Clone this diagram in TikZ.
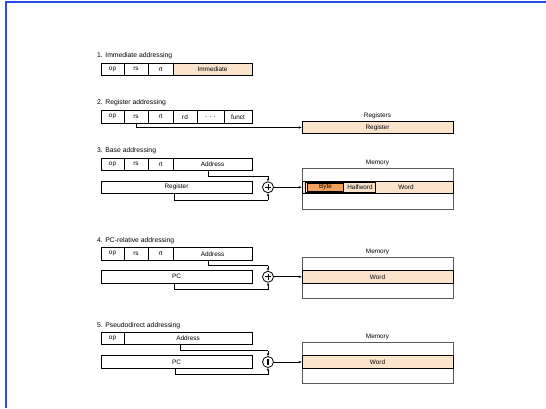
\documentclass[tikz,border=0pt]{standalone}
\usepackage{fontspec}
\setmainfont{Liberation Sans}
\usetikzlibrary{arrows.meta}
\definecolor{peach}{RGB}{252,228,204}
\definecolor{byteorange}{RGB}{242,162,92}
\definecolor{frameblue}{RGB}{35,75,240}
\definecolor{memgray}{RGB}{90,90,90}
\newcommand\lbl{\fontsize{6.4}{7.4}\selectfont}
\newcommand\ttl{\fontsize{6.8}{8}\selectfont}
\tikzset{
  cell/.style={draw, line width=0.8pt, inner sep=0pt, minimum height=12.5pt, font=\lbl},
  title/.style={anchor=west, inner sep=0pt, font=\ttl},
  toplbl/.style={anchor=south, inner sep=0pt, yshift=2pt, font=\lbl},
  peachcell/.style={cell, fill=peach},
  membox/.style={draw=memgray, line width=0.9pt, inner sep=0pt, minimum width=151pt},
  circ/.style={draw, line width=0.8pt, circle, minimum size=11pt, inner sep=0pt},
  link/.style={line width=0.8pt},
  arr/.style={line width=0.8pt, -{Stealth[length=3pt,width=2.4pt]}},
}
\begin{document}
\begin{tikzpicture}[x=1pt,y=-1pt]
\useasboundingbox (0,0) rectangle (546,408);
\fill[white] (0,0) rectangle (546,408);
\fill[frameblue] (4.6,1) rectangle (6.6,408);
\fill[frameblue] (4.6,0.6) rectangle (546,2.6);

% ---- 1. Immediate
\node[title] (t1) at (97,56) {1. Immediate addressing};
\node[cell, minimum width=23pt] (a1op) at (112.5,69.25) {op};
\node[cell, minimum width=24pt] (a1rs) at (136,69.25) {rs};
\node[cell, minimum width=25pt] (a1rt) at (160.5,69.25) {rt};
\node[peachcell, minimum width=79pt] (a1im) at (212.5,69.25) {Immediate};

% ---- 2. Register
\node[title] (t2) at (97,103) {2. Register addressing};
\node[cell, minimum width=23pt] (a2op) at (112.5,116.75) {op};
\node[cell, minimum width=24pt] (a2rs) at (136,116.75) {rs};
\node[cell, minimum width=25pt] (a2rt) at (160.5,116.75) {rt};
\node[cell, minimum width=24pt] (a2rd) at (185,116.75) {rd};
\node[cell, minimum width=27pt] (a2dots) at (210.5,116.75) {. . .};
\node[cell, minimum width=28pt] (a2fn) at (238,116.75) {funct};
\node[peachcell, minimum width=151pt, minimum height=12pt] (regs) at (377.5,127.5) {Register};
\node[toplbl] (regslbl) at (regs.north) {Registers};
\draw[arr] (a2rs.south) |- (regs.west);

% ---- 3. Base
\node[title] (t3) at (97,151) {3. Base addressing};
\node[cell, minimum width=23pt] (a3op) at (112.5,164.25) {op};
\node[cell, minimum width=24pt] (a3rs) at (136,164.25) {rs};
\node[cell, minimum width=25pt] (a3rt) at (160.5,164.25) {rt};
\node[cell, minimum width=79pt] (a3ad) at (212.5,164.25) {Address};
\node[cell, minimum width=151pt] (a3reg) at (176.5,187.25) {Register};
\node[circ] (add3) at (268,187.25) {};
\draw[line width=0.7pt] (add3.center) ++(-3.2,0) -- ++(6.4,0);
\draw[line width=0.7pt] (add3.center) ++(0,-3.2) -- ++(0,6.4);
\coordinate (c3a) at (208,176);
\coordinate (c3b) at (174,200);
\draw[link] (a3ad.south -| c3a) -- (c3a) -- (c3a -| add3);
\draw[arr] (c3a -| add3) -- (add3.north);
\draw[link] (a3reg.south -| c3b) -- (c3b) -- (c3b -| add3);
\draw[arr] (c3b -| add3) -- (add3.south);
\node[membox, minimum height=41pt] (mem3) at (377.5,188.5) {};
\node[toplbl] (mem3lbl) at (mem3.north) {Memory};
\node[peachcell, minimum width=151pt] (word3) at (377.5,187.25) {};
\node[inner sep=0pt, font=\lbl] (w3lbl) at (406,187.25) {Word};
\node[draw, line width=0.9pt, fill=peach, inner sep=0pt, minimum width=70pt, minimum height=10.5pt] (half3) at (340.5,187.25) {};
\node[draw, line width=0.7pt, fill=byteorange, inner sep=0pt, minimum width=36pt, minimum height=8pt, font=\lbl] (byte3) at (325.5,187.25) {Byte};
\node[inner sep=0pt, font=\lbl] (h3lbl) at (360,187.25) {Halfword};
\draw[arr] (add3.east) -- (word3.west);

% ---- 4. PC-relative
\node[title] (t4) at (97,241) {4. PC-relative addressing};
\node[cell, minimum width=23pt] (a4op) at (112.5,253.75) {op};
\node[cell, minimum width=24pt] (a4rs) at (136,253.75) {rs};
\node[cell, minimum width=25pt] (a4rt) at (160.5,253.75) {rt};
\node[cell, minimum width=79pt] (a4ad) at (212.5,253.75) {Address};
\node[cell, minimum width=151pt] (a4pc) at (176.5,276.75) {PC};
\node[circ] (add4) at (268,276.75) {};
\draw[line width=0.7pt] (add4.center) ++(-3.2,0) -- ++(6.4,0);
\draw[line width=0.7pt] (add4.center) ++(0,-3.2) -- ++(0,6.4);
\coordinate (c4a) at (208,265.5);
\coordinate (c4b) at (174,289.5);
\draw[link] (a4ad.south -| c4a) -- (c4a) -- (c4a -| add4);
\draw[arr] (c4a -| add4) -- (add4.north);
\draw[link] (a4pc.south -| c4b) -- (c4b) -- (c4b -| add4);
\draw[arr] (c4b -| add4) -- (add4.south);
\node[membox, minimum height=41pt] (mem4) at (377.5,278) {};
\node[toplbl] (mem4lbl) at (mem4.north) {Memory};
\node[peachcell, minimum width=151pt] (word4) at (377.5,276.75) {Word};
\draw[arr] (add4.east) -- (word4.west);

% ---- 5. Pseudodirect
\node[title] (t5) at (97,326) {5. Pseudodirect addressing};
\node[cell, minimum width=23pt] (a5op) at (112.5,338.5) {op};
\node[cell, minimum width=128pt] (a5ad) at (188,338.5) {Address};
\node[cell, minimum width=151pt] (a5pc) at (176.5,362) {PC};
\node[circ] (cat5) at (268,362) {};
\draw[line width=1.4pt] (cat5.center) ++(0,-3.4) -- ++(0,6.8);
\coordinate (c5a) at (180,350.5);
\coordinate (c5b) at (175,374.5);
\draw[link] (a5ad.south -| c5a) -- (c5a) -- (c5a -| cat5);
\draw[arr] (c5a -| cat5) -- (cat5.north);
\draw[link] (a5pc.south -| c5b) -- (c5b) -- (c5b -| cat5);
\draw[arr] (c5b -| cat5) -- (cat5.south);
\node[membox, minimum height=41pt] (mem5) at (377.5,363.25) {};
\node[toplbl] (mem5lbl) at (mem5.north) {Memory};
\node[peachcell, minimum width=151pt] (word5) at (377.5,362) {Word};
\draw[arr] (cat5.east) -- (word5.west);
\end{tikzpicture}
\end{document}
